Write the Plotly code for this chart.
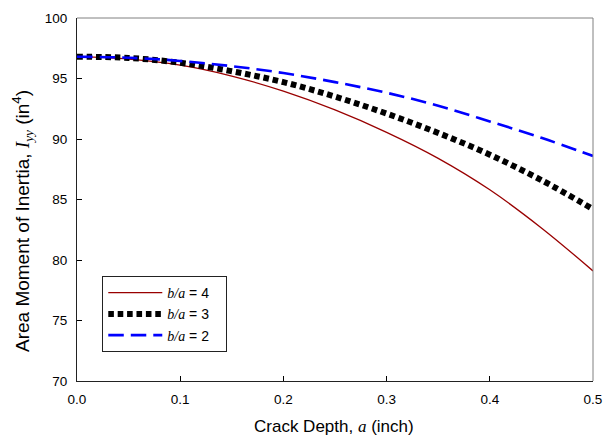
import plotly.graph_objects as go

crack_depth = [0.0, 0.05, 0.10, 0.15, 0.20, 0.25, 0.30, 0.35, 0.40, 0.45, 0.50]
iyy_ba4 = [96.8, 96.6, 96.1, 95.2, 93.95, 92.4, 90.55, 88.4, 85.8, 82.65, 79.1]
iyy_ba3 = [96.8, 96.7, 96.3, 95.6, 94.7, 93.5, 92.1, 90.5, 88.7, 86.6, 84.2]
iyy_ba2 = [96.8, 96.72, 96.45, 96.02, 95.45, 94.7, 93.82, 92.75, 91.45, 90.1, 88.6]

x_ticks = [0.0, 0.1, 0.2, 0.3, 0.4, 0.5]
x_tick_labels = ["0.0", "0.1", "0.2", "0.3", "0.4", "0.5"]
y_ticks = [70, 75, 80, 85, 90, 95, 100]

SERIF = "Liberation Serif"

def ba(v):
    return f"<span style='font-family:{SERIF}'><i>b/a</i></span> = {v}&#160;&#160;&#160;"

fig = go.Figure()
fig.add_trace(go.Scatter(x=crack_depth, y=iyy_ba4, mode="lines", name=ba(4),
                         line=dict(color="#990000", width=1.3, shape="spline")))
fig.add_trace(go.Scatter(x=crack_depth, y=iyy_ba3, mode="lines", name=ba(3),
                         line=dict(color="black", width=6, dash="5.6px,3.8px", shape="spline")))
fig.add_trace(go.Scatter(x=crack_depth, y=iyy_ba2, mode="lines", name=ba(2),
                         line=dict(color="#0000FF", width=2.6, dash="15.5px,7px", shape="spline")))

fig.update_layout(
    width=613, height=440,
    margin=dict(l=77, r=11, t=14, b=59),
    paper_bgcolor="white", plot_bgcolor="white",
    font=dict(family="Liberation Sans, Arial", size=13.5, color="black"),
    showlegend=True,
    legend=dict(x=0.049, y=0.289, xanchor="left", yanchor="top",
                bordercolor="#222222", borderwidth=1, bgcolor="white",
                font=dict(size=14), tracegroupgap=0, itemwidth=54),
    xaxis=dict(range=[0, 0.5], tickvals=x_ticks, ticktext=x_tick_labels,
               ticks="inside", ticklen=5, tickcolor="black", showgrid=False, zeroline=False,
               showline=True, linecolor="#222222", linewidth=1, ticklabelstandoff=6),
    yaxis=dict(range=[70, 100], tickvals=y_ticks,
               ticks="inside", ticklen=5, tickcolor="black", showgrid=False, zeroline=False,
               showline=True, linecolor="#222222", linewidth=1, ticklabelstandoff=6),
)
fig.add_annotation(xref="paper", yref="paper", x=0.498, y=-0.126, showarrow=False,
                   text=f"Crack Depth, <span style='font-family:{SERIF}'><i>a</i></span> (inch)",
                   font=dict(size=17), xanchor="center", yanchor="middle")
fig.add_annotation(xref="paper", yref="paper", x=-0.1057, y=0.442, showarrow=False, textangle=-90,
                   text=f"Area Moment of Inertia, <span style='font-family:{SERIF}'><i>I</i><sub><i>yy</i></sub></span> (in<sup>4</sup>)",
                   font=dict(size=19), xanchor="center", yanchor="middle")
fig.add_shape(type="line", xref="paper", yref="paper", x0=0, x1=1, y0=1, y1=1,
              line=dict(color="#808080", width=1))
fig.add_shape(type="line", xref="paper", yref="paper", x0=1, x1=1, y0=0, y1=1,
              line=dict(color="#808080", width=1))

fig.write_html("out.html")
